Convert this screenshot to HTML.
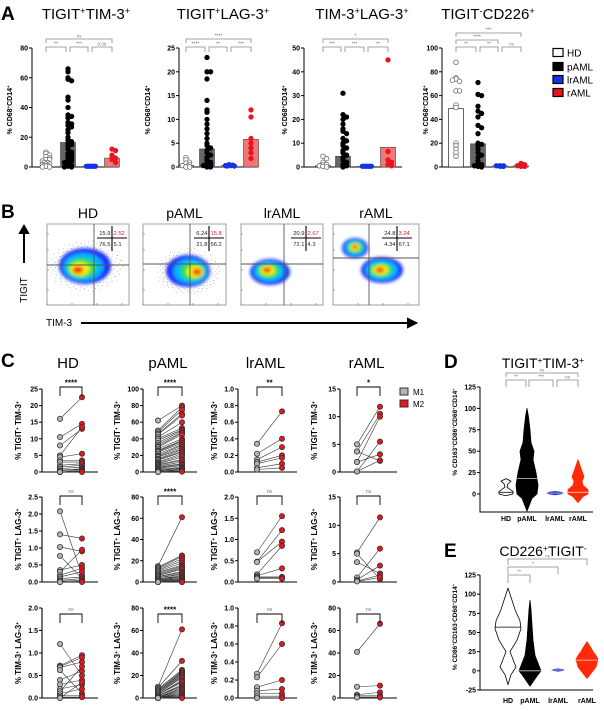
<!DOCTYPE html>
<html><head><meta charset="utf-8"><style>
html,body{margin:0;padding:0;background:#fff;}
svg{display:block;font-family:"Liberation Sans",Arial,sans-serif;}
</style></head><body>
<svg id="fig" width="604" height="711" viewBox="0 0 604 711" xmlns="http://www.w3.org/2000/svg">
<defs>
<filter id="blur" x="-30%" y="-30%" width="160%" height="160%"><feGaussianBlur stdDeviation="1.6"/></filter>
</defs>
</svg>
<script>
// ===== Panel A data =====
const aGroups = ["HD","pAML","lrAML","rAML"];
const a1HD = [10,9,8,7,6,5,5,4,3,3,2,2,1.5,1,1,0.5,0,0];
const a1pAML = [66,64,60,59,58,47,45,40,35,34,33,30,29,28,27,25,23,20,18,17,16,15,14,12,10,9,8,7,6,5,4,3,2,1,0.5,0,0];
const a1lrAML = [0.5,0.5,0.5,0.5,0.5,0.5];
const a1rAML = [12,11,8,7,6,5,3];
const a1Bars = [0,16.5,0.5,6];
const a2HD = [2,1.5,1,0.8,0.5,0.3,0.2,0,0];
const a2pAML = [23,20,20,18.5,14,12,11.5,10,9,8,7,6,5,4.5,4,3.5,3,2.5,2,1.5,1,0.8,0.5,0.3,0,0];
const a2lrAML = [0.5,0.4,0.3,0.3,0.2,0.2];
const a2rAML = [12,10.5,6,5,4,3,1.8];
const a2Bars = [0.3,3.8,0.3,5.8];
const a3HD = [4.5,3.5,2,1,1,0.5,0.3,0];
const a3pAML = [31,22,21,20,18,16,15,14,12,11,10,9,8,7,6,5,4,3,2,1,0.5,0];
const a3lrAML = [0.3,0.3,0.3,0.3,0.3,0.3];
const a3rAML = [45,6.5,3,2,1,0.5];
const a3Bars = [0.5,4.5,0.3,8.3];
const a4HD = [88,75,74,72,73,64,64,52,50,20,18,15,12,9];
const a4pAML = [71,61,60,51,47,45,42,35,33,28,20,19,18,15,12,10,8,5,3,2,1,0.5,0];
const a4lrAML = [1,1,1,0.8,0.6,0.5];
const a4rAML = [3,2,1,0.5,0.5];
const a4Bars = [49,19.5,1,1];
const aMax = [80,25,50,100];
const aTicks1 = ["0","20","40","60","80"];
const aTicks2 = ["0","5","10","15","20","25"];
const aTicks3 = ["0","10","20","30","40","50"];
const aTicks4 = ["0","20","40","60","80","100"];
const aTitles = ["TIGIT|+|TIM-3|+","TIGIT|+|LAG-3|+","TIM-3|+|LAG-3|+","TIGIT|-|CD226|+"];
const aSigTop1 = ["ns"], aSigLow1 = ["**","***","0.06"];
const aSigTop2 = ["****"], aSigLow2 = ["****","**","***"];
const aSigTop3 = ["*"], aSigLow3 = ["***","***","**"];
const aSigTop4 = ["***","****"], aSigLow4 = ["**","**","ns"];

// ===== Panel B data =====
const bGroups = ["HD","pAML","lrAML","rAML"];
const bQuadTL = ["15.9","6.24","20.9","24.8"];
const bQuadTR = ["2.52","15.8","2.67","3.24"];
const bQuadBL = ["76.5","21.8","72.1","4.34"];
const bQuadBR = ["5.1","56.2","4.3","67.1"];

// ===== Panel C data =====
const cGroups = ["HD","pAML","lrAML","rAML"];
const cRowTitles = ["TIGIT|+| TIM-3|+","TIGIT|+| LAG-3|+","TIM-3|+| LAG-3|+"];
const cMax = [[25,100,1,15],[2.5,80,2,15],[2,80,1,80]];
const cStep = [[5,20,0.2,5],[0.5,20,0.5,5],[0.5,20,0.2,20]];
const cSig = [["****","****","**","*"],["ns","****","ns","ns"],["ns","****","ns","ns"]];
const c11M1 = [16,10.5,8,5,4.5,3.5,3,2,1.5,1,0.5,0.3,0,0,0,0];
const c11M2 = [22.5,14.5,13,13.5,5.5,3.5,3,2.5,2,1.5,1,0.8,0.5,0.3,0.1,0];
const c12M1 = [62,50,48,46,45,42,40,38,35,33,31,30,28,26,25,24,22,20,19,18,16,15,14,12,11,10,9,8,7,6,5,4,3,2,2,1,1,0.5,0,0];
const c12M2 = [80,78,75,70,68,60,53,51,50,48,47,45,40,38,37,35,33,32,30,28,27,25,24,22,20,18,15,14,12,10,9,8,6,5,4,3,2,1,1,0.5];
const c13M1 = [0.34,0.22,0.15,0.12,0.1,0.05,0.03];
const c13M2 = [0.73,0.4,0.3,0.2,0.17,0.1,0.05];
const c14M1 = [5,3.7,3.7,1.8,1.8,0.1,0.1];
const c14M2 = [11.8,10.5,2,10,3.2,5.5,2.1];
const c21M1 = [2.08,1.4,1.03,0.77,0.35,0.3,0.2,0.15,0.1,0.05,0.02,0,0];
const c21M2 = [0.2,1.28,0.9,0.1,0.5,0.95,0.4,0.3,0.15,0.1,0.05,0.02,0];
const c22M1 = [15,14,13,12,11,10,9,8,7,6,6,5,5,4,4,3,3,2,2,2,1,1,1,0.5,0.5,0,0,0,0,0];
const c22M2 = [61,25,24,22,20,18,16,15,14,13,12,10,9,8,7,6,5,5,4,3,3,2,2,1,1,1,0.5,0.5,0,0];
const c23M1 = [0.7,0.48,0.47,0.18,0.15,0.12,0.1,0.08];
const c23M2 = [1.55,1.22,0.95,0.85,0.32,0.12,0.1,0.08];
const c24M1 = [5.2,5,3.5,0.8,0.4,0.2,0.1];
const c24M2 = [11.4,0.5,1.5,5.9,2.9,1.2,0.8];
const c31M1 = [1.2,0.72,0.7,0.68,0.62,0.4,0.3,0.2,0.15,0.1,0.05,0.02,0];
const c31M2 = [0.5,0.95,0.9,0.8,0.1,0.6,0.4,0.3,0.7,0.2,0.05,0.02,0.35];
const c32M1 = [10,9,8,7,6,6,5,5,4,4,3,3,3,2,2,2,1,1,1,1,0.5,0.5,0.5,0,0,0,0,0,0,0];
const c32M2 = [61,33,25,24,23,22,21,20,19,18,16,15,14,12,11,10,9,8,7,6,5,4,3,3,2,2,1,1,0.5,0];
const c33M1 = [0.27,0.23,0.12,0.08,0.05,0.02,0];
const c33M2 = [0.83,0.6,0.2,0.1,0.05,0.02,0];
const c34M1 = [41,10,3,2,1,0.5];
const c34M2 = [66,11,5,2,1,0.5];

// ===== Panel D / E violin data =====
const dTicks = [0,25,50,75,100,125];
const dHDLevels = [-2,0,3,8,12,15,18];
const dHDDensity = [0,7,7,1,2,5,0];
const dpAMLLevels = [-20,-5,0,10,25,40,50,60,75,90,100];
const dpAMLDensity = [0,5,10,11,9,6,7,4,3,1.5,0];
const dlrAMLLevels = [-1,0,1,2,3];
const dlrAMLDensity = [0,6,8,6,0];
const drAMLLevels = [-10,-3,0,5,10,15,20,30,40];
const drAMLDensity = [0,5,10,10,5,4,6,3,0];
const dMedians = [2,18,1,2];
const dSig = ["ns","**","***","ns"];
const eTicks = [-25,0,25,50,75,100,125];
const eHDLevels = [-18,-5,5,15,25,40,55,65,80,100,108];
const eHDDensity = [0,3,8,5,2,9,13,12,7,2,0];
const epAMLLevels = [-20,-5,0,10,20,40,60,80,92];
const epAMLDensity = [0,8,11,8,5,3,2,1,0];
const elrAMLLevels = [-0.5,0.5,1,1.5,2.5];
const elrAMLDensity = [0,5,6,5,0];
const erAMLLevels = [-10,0,5,10,15,20,25,30,38];
const erAMLDensity = [0,6,9,10,11,9,6,4,0];
const eMedians = [57,0,1,14];
const eSig = ["ns","*","**"];

// ===== helpers =====
const svg = document.getElementById('fig');
const NS = "http://www.w3.org/2000/svg";
function mk(tag, attrs, parent){
  const el = document.createElementNS(NS, tag);
  for (const k in attrs) el.setAttribute(k, attrs[k]);
  (parent||svg).appendChild(el);
  return el;
}
function nm(el, name, inter){
  
  
  return el;
}
function lin(d0,d1,r0,r1){ return v => r0 + (v-d0)/(d1-d0)*(r1-r0); }
function supText(x,y,spec,size,attrs,parent){
  const t = mk('text', Object.assign({x:x,y:y,'font-size':size}, attrs||{}), parent);
  spec.split('|').forEach((p,i)=>{
    const ts = mk('tspan', {}, t);
    if (i%2===1){ ts.setAttribute('font-size', size*0.62); ts.setAttribute('baseline-shift','super'); }
    ts.textContent = p;
  });
  return t;
}
function txt(x,y,s,size,attrs,parent){
  const t = mk('text', Object.assign({x:x,y:y,'font-size':size}, attrs||{}), parent);
  t.textContent = s; return t;
}
function bracket(g,x1,x2,y,drop,label,color){
  const p = mk('path',{d:`M${x1},${y+drop}V${y}H${x2}V${y+drop}`,fill:'none',stroke:color||'#888','stroke-width':0.8},g);
  nm(p,'significance-bracket',false);
  const big = label.indexOf('*')>=0;
  const t = txt((x1+x2)/2, y-1.5, label, big?5:4.5, {'text-anchor':'middle',fill:color||'#777'}, g);
  nm(t,'significance-label',false);
}
const colorsA = {HD:['#fff','#555'], pAML:['#000','#000'], lrAML:['#1432e6','#1432e6'], rAML:['#e8141e','#e8141e']};

[['A',1,20],['B',1,218],['C',1,367],['D',444,368],['E',444,557]].forEach(([l,x,y])=>{
  const t = txt(x,y,l,19,{'font-weight':'bold'});
  nm(t,'panel-label-'+l.toLowerCase(),false);
});

// ===== Panel A =====
const aData = [[a1HD,a1pAML,a1lrAML,a1rAML],[a2HD,a2pAML,a2lrAML,a2rAML],[a3HD,a3pAML,a3lrAML,a3rAML],[a4HD,a4pAML,a4lrAML,a4rAML]];
const aBars = [a1Bars,a2Bars,a3Bars,a4Bars];
const aTickLabels = [aTicks1,aTicks2,aTicks3,aTicks4];
const aSigs = [[aSigTop1,aSigLow1],[aSigTop2,aSigLow2],[aSigTop3,aSigLow3],[aSigTop4,aSigLow4]];
const aLayout = [
  {ax:32,end:119,cats:[46,68,90,112],title:86,ylab:12},
  {ax:179,end:258,cats:[186,207,229,251],title:223,ylab:150},
  {ax:304,end:402,cats:[323,343,366,388],title:362,ylab:287},
  {ax:442,end:528,cats:[456,478,500,521],title:488,ylab:428}
];
const jit = [0,3.6,-3.6,1.8,-1.8,5.4,-5.4];
aLayout.forEach((L,i)=>{
  const g = mk('g',{});
  nm(g,'panel-a-chart-'+(i+1),false);
  const y = lin(0,aMax[i],167,48);
  const tt = supText(L.title,19,aTitles[i],15,{'text-anchor':'middle'},g);
  nm(tt,'chart-title',false);
  const yl = supText(0,0,'% CD68|+|CD14|+',7,{'font-weight':'bold','text-anchor':'middle',transform:`translate(${L.ylab},110) rotate(-90)`},g);
  nm(yl,'y-axis-title',false);
  const axis = mk('path',{d:`M${L.ax},${y(aMax[i])}V167H${L.end}`,fill:'none',stroke:'#000','stroke-width':1},g);
  nm(axis,'axes',false);
  aTickLabels[i].forEach(lbl=>{
    const v = parseFloat(lbl), yy=y(v);
    const tk = mk('line',{x1:L.ax-3,x2:L.ax,y1:yy,y2:yy,stroke:'#000','stroke-width':1},g);
    nm(tk,'y-tick',false);
    const tl = txt(L.ax-4,yy+2.5,lbl,7,{'text-anchor':'end','font-weight':'bold'},g);
    nm(tl,'y-tick-label',false);
  });
  aGroups.forEach((grp,j)=>{
    const v = aBars[i][j]; if (v<=0) return;
    let fill = grp==='HD'?'#fff':grp==='pAML'?'#666':grp==='lrAML'?'#7f8cff':'#f07878';
    const b = mk('rect',{x:L.cats[j]-7.5,y:y(v),width:15,height:167-y(v),fill:fill,stroke:grp==='HD'?'#000':'#444','stroke-width':0.6},g);
    nm(b,'bar-'+grp.toLowerCase(),false);
  });
  aGroups.forEach((grp,j)=>{
    const vals = aData[i][j];
    const counts = {};
    vals.forEach(v=>{
      const key = Math.round(y(v)/3.5);
      counts[key]=(counts[key]||0)+1;
      const n = counts[key]-1;
      const off = jit[n%jit.length];
      const dy = Math.floor(n/jit.length)*-1.5;
      const c = mk('circle',{cx:L.cats[j]+off,cy:y(v)+dy,r:2.3,fill:colorsA[grp][0],stroke:colorsA[grp][1],'stroke-width':0.7},g);
      nm(c,'point-'+grp.toLowerCase(),false);
    });
  });
  const [top,low] = aSigs[i];
  const c = L.cats;
  if (i<3){
    bracket(g,c[0],c[3],39,4,top[0]);
  } else {
    bracket(g,c[0],c[3],33,4,top[0]);
    bracket(g,c[0],c[2]-2,40,4,top[1]);
  }
  bracket(g,c[0],c[1]-2,47,5,low[0]);
  bracket(g,c[1]+2,c[2]-2,47,5,low[1]);
  bracket(g,c[2]+2,c[3],47,5,low[2]);
});
const legA = mk('g',{});
nm(legA,'legend',false);
[['HD','#fff',53],['pAML','#000',67],['lrAML','#1432e6',80],['rAML','#e8141e',93]].forEach(([l,f,yy])=>{
  const r = mk('rect',{x:553,y:yy-4.5,width:10,height:8,fill:f,stroke:'#000','stroke-width':1.2},legA);
  nm(r,'legend-swatch-'+l.toLowerCase(),false);
  const t = txt(567,yy+3.5,l,10,{},legA);
  nm(t,'legend-label-'+l.toLowerCase(),false);
});

// ===== Panel B =====
const bLayout = [
  {x0:47,x1:129,v:94,h:265,cx:112,blobs:[[85,266,26,18,78,270]],scatter:true},
  {x0:143,x1:226,v:190,h:264,cx:209,blobs:[[188,271,22,16,197,272]],scatter:true},
  {x0:241,x1:323,v:284,h:264,cx:306,blobs:[[270,272,20,13,267,270]],scatter:false},
  {x0:333,x1:419,v:369,h:258,cx:397,blobs:[[355,248,13,10,355,247],[382,270,21,13,380,270]],scatter:false}
];
const bColors = ['#1e32ff','#00b4ff','#2ee04a','#f0ee10','#ff2a10'];
bLayout.forEach((L,i)=>{
  const g = mk('g',{});
  nm(g,'flow-plot-'+bGroups[i].toLowerCase(),false);
  const t = txt((L.x0+L.x1)/2,218,bGroups[i],14,{'text-anchor':'middle'},g);
  nm(t,'flow-plot-title',false);
  const fr = mk('rect',{x:L.x0,y:224,width:L.x1-L.x0,height:81,fill:'#fff',stroke:'#888','stroke-width':0.8},g);
  nm(fr,'plot-frame',false);
  if (L.scatter){
    const sg = mk('g',{fill:'#777'},g);
    nm(sg,'scatter-events',false);
    const b=L.blobs[0];
    for(let k=0;k<140;k++){
      const a=(k*2.399)%6.283, rr=1.0+((k*37)%23)/50;
      mk('rect',{x:b[0]+Math.cos(a)*b[2]*rr,y:b[1]+Math.sin(a)*b[3]*rr,width:0.6,height:0.6},sg);
    }
  }
  const bg = mk('g',{filter:'url(#blur)'},g);
  nm(bg,'density-blob',false);
  L.blobs.forEach(b=>{
    bColors.forEach((col,k)=>{
      const s = [1,0.78,0.56,0.38,0.2][k];
      const cx = b[0]+(b[4]-b[0])*(k/4), cy=b[1]+(b[5]-b[1])*(k/4);
      mk('ellipse',{cx:cx,cy:cy,rx:b[2]*s,ry:b[3]*s,fill:col},bg);
    });
  });
  const q = mk('path',{d:`M${L.v},224V305M${L.x0},${L.h}H${L.x1}`,stroke:'#555','stroke-width':0.9,fill:'none'},g);
  nm(q,'quadrant-gates',false);
  const tk = mk('path',{d:`M${L.x0},305v-2M${L.x0+25},305v-2M${L.x0+50},305v-2M${L.x0+75},305v-2M${L.x0},290h2M${L.x0},270h2M${L.x0},250h2M${L.x0},234h2`,stroke:'#666','stroke-width':0.6},g);
  nm(tk,'axis-ticks',false);
  const cr = mk('path',{d:`M${L.cx},226V251M${L.cx-15},238H${L.cx+15}`,stroke:'#000','stroke-width':1.1},g);
  nm(cr,'quadrant-cross',false);
  [[bQuadTL[i],L.cx-1.5,235,'end','#222'],[bQuadTR[i],L.cx+1.5,235,'start','#e8141e'],[bQuadBL[i],L.cx-1.5,246,'end','#222'],[bQuadBR[i],L.cx+1.5,246,'start','#222']].forEach(([s,x,y,a,f])=>{
    const tq = txt(x,y,s,5.8,{'text-anchor':a,fill:f},g);
    nm(tq,'quadrant-percentage',false);
  });
});
const ar1 = mk('path',{d:'M24,263V231M20,233L24,226L28,233Z',stroke:'#000','stroke-width':2,fill:'#000'});
nm(ar1,'tigit-axis-arrow',false);
const tg = txt(0,0,'TIGIT',10,{'text-anchor':'middle',transform:'translate(27,290) rotate(-90)'});
nm(tg,'tigit-axis-label',false);
const tm = txt(46,326,'TIM-3',10,{});
nm(tm,'tim3-axis-label',false);
const ar2 = mk('path',{d:'M81,323H410M408,319L416,323L408,327Z',stroke:'#000','stroke-width':2,fill:'#000'});
nm(ar2,'tim3-axis-arrow',false);

// ===== Panel C =====
const cData = [[[c11M1,c11M2],[c12M1,c12M2],[c13M1,c13M2],[c14M1,c14M2]],
               [[c21M1,c21M2],[c22M1,c22M2],[c23M1,c23M2],[c24M1,c24M2]],
               [[c31M1,c31M2],[c32M1,c32M2],[c33M1,c33M2],[c34M1,c34M2]]];
const cAx = [42,143,238,340], cM1=[60,158,257,357], cM2=[82,182,282,380], cEnd=[98,197,297,397], cYl=[21,120,217,317];
const cTop=[389,497,608], cBot=[472,582,698], cBr=[387,496,614];
cGroups.forEach((grp,j)=>{
  const t = txt((cAx[j]+cEnd[j])/2-2,368,grp,15,{'text-anchor':'middle'});
  nm(t,'column-title-'+grp.toLowerCase(),false);
});
for (let r=0;r<3;r++) for (let j=0;j<4;j++){
  const g = mk('g',{});
  nm(g,`paired-plot-${cGroups[j].toLowerCase()}-row${r+1}`,false);
  const mx = cMax[r][j], st=cStep[r][j];
  const y = lin(0,mx,cBot[r],cTop[r]);
  const axis = mk('path',{d:`M${cAx[j]},${cTop[r]}V${cBot[r]}H${cEnd[j]}`,fill:'none',stroke:'#000','stroke-width':1.1},g);
  nm(axis,'axes',false);
  const dec = st<1?1:0;
  for (let v=0; v<=mx+1e-9; v+=st){
    const yy=y(v);
    const tk = mk('line',{x1:cAx[j]-3,x2:cAx[j],y1:yy,y2:yy,stroke:'#000','stroke-width':1},g);
    nm(tk,'y-tick',false);
    const tl = txt(cAx[j]-4,yy+2.5,v.toFixed(dec),7,{'text-anchor':'end','font-weight':'bold'},g);
    nm(tl,'y-tick-label',false);
  }
  const yl = supText(0,0,'% '+cRowTitles[r],8,{'font-weight':'bold','text-anchor':'middle',transform:`translate(${cYl[j]},${(cTop[r]+cBot[r])/2}) rotate(-90)`},g);
  nm(yl,'y-axis-title',false);
  const [m1,m2] = cData[r][j];
  m1.forEach((v,k)=>{
    const ln = mk('line',{x1:cM1[j],y1:y(v),x2:cM2[j],y2:y(m2[k]),stroke:'#333','stroke-width':0.6},g);
    nm(ln,'pair-line',false);
  });
  m1.forEach(v=>{
    const c = mk('circle',{cx:cM1[j],cy:y(v),r:2.6,fill:'#b4b4b4',stroke:'#333','stroke-width':0.8},g);
    nm(c,'point-m1',false);
  });
  m2.forEach(v=>{
    const c = mk('circle',{cx:cM2[j],cy:y(v),r:2.6,fill:'#e8141e',stroke:'#333','stroke-width':0.8},g);
    nm(c,'point-m2',false);
  });
  const sig = cSig[r][j];
  const br = mk('path',{d:`M${cM1[j]},${cBr[r]+9}V${cBr[r]}H${cM2[j]}V${cBr[r]+9}`,fill:'none',stroke:'#000','stroke-width':0.9},g);
  nm(br,'significance-bracket',false);
  const st2 = sig==='ns'? txt((cM1[j]+cM2[j])/2,cBr[r]-3,'ns',5,{'text-anchor':'middle',fill:'#777'},g)
                        : txt((cM1[j]+cM2[j])/2,cBr[r]-1.5,sig,8,{'text-anchor':'middle','font-weight':'bold'},g);
  nm(st2,'significance-label',false);
}
const legC = mk('g',{});
nm(legC,'legend-m1-m2',false);
[['M1','#b4b4b4',392],['M2','#e8141e',404]].forEach(([l,f,yy])=>{
  const r = mk('rect',{x:400,y:yy-4,width:8,height:7,fill:f,stroke:'#333','stroke-width':1},legC);
  nm(r,'legend-swatch-'+l.toLowerCase(),false);
  const t = txt(413,yy+3,l,8,{},legC);
  nm(t,'legend-label-'+l.toLowerCase(),false);
});

// ===== Panels D, E =====
function violinPanel(id, title, ticks, tickMin, tickMax, yTop, yBot, cats, axisBottom, labelY, levels, dens, colors, medians, medColors, ylabel, ycenter){
  const g = mk('g',{});
  nm(g,'violin-chart-'+id,false);
  const t = supText(543, id==='d'?368:556, title, 14, {'text-anchor':'middle'}, g);
  nm(t,'chart-title',false);
  const y = lin(tickMin,tickMax,yBot,yTop);
  const axis = mk('path',{d:`M480,${y(tickMax)}V${axisBottom}H593`,fill:'none',stroke:'#000','stroke-width':1},g);
  nm(axis,'axes',false);
  ticks.forEach(v=>{
    const yy=y(v);
    const tk = mk('line',{x1:477,x2:480,y1:yy,y2:yy,stroke:'#000','stroke-width':1},g);
    nm(tk,'y-tick',false);
    const tl = txt(476,yy+2.5,String(v),7,{'text-anchor':'end','font-weight':'bold'},g);
    nm(tl,'y-tick-label',false);
  });
  const yl = supText(0,0,ylabel,6.5,{'font-weight':'bold','text-anchor':'middle',transform:`translate(457,${ycenter}) rotate(-90)`},g);
  nm(yl,'y-axis-title',false);
  ["HD","pAML","lrAML","rAML"].forEach((grp,j)=>{
    const lv=levels[j], dn=dens[j];
    let right='', left='';
    lv.forEach((v,k)=>{ right += (k?'L':'M')+(cats[j]+dn[k])+','+y(v); });
    for(let k=lv.length-1;k>=0;k--){ left += 'L'+(cats[j]-dn[k])+','+y(lv[k]); }
    const p = mk('path',{d:right+left+'Z',fill:colors[j][0],stroke:colors[j][1],'stroke-width':0.8,'stroke-linejoin':'round'},g);
    nm(p,'violin-'+grp.toLowerCase(),false);
    const mv = medians[j];
    let w=0; for(let k=0;k<lv.length-1;k++){ if(mv>=lv[k]&&mv<=lv[k+1]){ w=dn[k]+(dn[k+1]-dn[k])*(mv-lv[k])/(lv[k+1]-lv[k]); } }
    const m = mk('line',{x1:cats[j]-w,x2:cats[j]+w,y1:y(mv),y2:y(mv),stroke:medColors[j],'stroke-width':0.8},g);
    nm(m,'median-line',false);
    const xl = txt(cats[j],labelY,grp,7,{'text-anchor':'middle','font-weight':'bold'},g);
    nm(xl,'x-tick-label',false);
  });
  return g;
}
const vColors = [['#fff','#000'],['#000','#000'],['#2a3cd8','#2a3cd8'],['#ff2a0a','#ff2a0a']];
const gD = violinPanel('d','TIGIT|+|TIM-3|+',dTicks,0,125,387,494,[506,527,555,578],512,521,
  [dHDLevels,dpAMLLevels,dlrAMLLevels,drAMLLevels],[dHDDensity,dpAMLDensity,dlrAMLDensity,drAMLDensity],
  vColors,dMedians,['#000','#ccc','#aab','#fcc'],'% CD163|+|CD86|+|CD68|+|CD14|+',432);
bracket(gD,506,578,373,4,dSig[0]);
bracket(gD,506,526,380,7,dSig[1]);
bracket(gD,529,553,380,7,dSig[2]);
bracket(gD,557,578,380,7,dSig[3]);
const gE = violinPanel('e','CD226|+|TIGIT|-',eTicks,-25,125,575,690,[508,530,558,587],690,703,
  [eHDLevels,epAMLLevels,elrAMLLevels,erAMLLevels],[eHDDensity,epAMLDensity,elrAMLDensity,erAMLDensity],
  vColors,eMedians,['#000','#ccc','#aab','#fcc'],'% CD86|+|CD163|-|CD68|+|CD14|+',627);
bracket(gE,508,587,559,6,eSig[0]);
bracket(gE,508,558,567,7,eSig[1]);
bracket(gE,508,530,575,8,eSig[2]);
</script>
</body></html>
